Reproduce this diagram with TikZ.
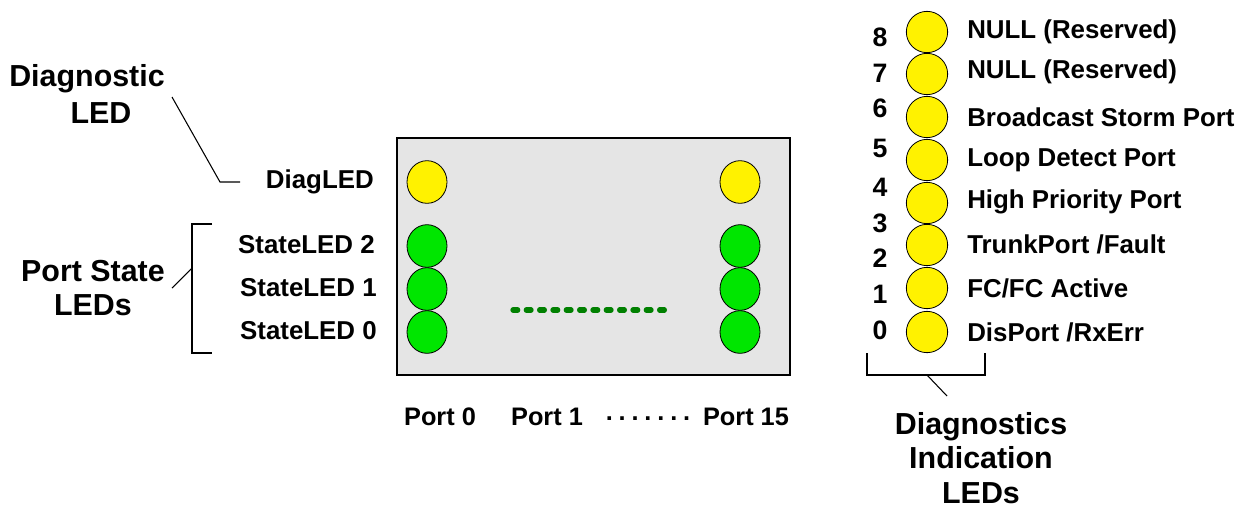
\documentclass[tikz,border=0pt]{standalone}
\usepackage{fontspec}
\setmainfont{Liberation Sans}
\usetikzlibrary{shapes.geometric}
\begin{document}
\begin{tikzpicture}[x=0.75pt,y=-0.75pt,
  lbl/.style={font=\bfseries\fontsize{19.4}{21}\selectfont, inner sep=0pt},
  plbl/.style={font=\bfseries\fontsize{19}{21}\selectfont, inner sep=0pt},
  big/.style={font=\bfseries\fontsize{22.8}{26}\selectfont, inner sep=0pt, align=center},
  num/.style={font=\bfseries\fontsize{20}{22}\selectfont, inner sep=0pt},
  yled/.style={draw=black, line width=0.6pt, fill=yellow, ellipse, minimum width=30pt, minimum height=32pt, inner sep=0pt},
  gled/.style={draw=black, line width=0.6pt, fill={rgb,255:red,0;green,230;blue,0}, ellipse, minimum width=30pt, minimum height=32pt, inner sep=0pt},
  dled/.style={draw=black, line width=0.6pt, fill=yellow, circle, minimum size=31pt, inner sep=0pt},
  conn/.style={draw=black, line width=0.8pt}]
\useasboundingbox (0,0) rectangle (1247,508);
% board
\node[draw=black, line width=0.8pt, fill={rgb,255:red,229;green,229;blue,229}, minimum width=294.75pt, minimum height=177.75pt, inner sep=0pt] (board) at (593.5,256.5) {};
% port 0 LEDs
\node[yled] (d0) at (427,182) {};
\node[gled] (s02) at (427,246) {};
\node[gled] (s01) at (427,289) {};
\node[gled] (s00) at (427,332) {};
% port 15 LEDs
\node[yled] (d15) at (740,182) {};
\node[gled] (s152) at (740,246) {};
\node[gled] (s151) at (740,289) {};
\node[gled] (s150) at (740,332) {};
% dotted green line
\coordinate (gl) at (513,310);
\coordinate (gr) at (672,310);
\draw[line width=4pt, line cap=round, dash pattern=on 3.5pt off 6.5pt, draw={rgb,255:red,0;green,128;blue,0}] (gl) -- (gr);
% left labels
\node[lbl, anchor=east] (diagled) at (374,182) {DiagLED};
\node[lbl, anchor=east] (sl2) at (375,245) {StateLED 2};
\node[lbl, anchor=east] (sl1) at (377,288) {StateLED 1};
\node[lbl, anchor=east] (sl0) at (377,331) {StateLED 0};
% port labels
\node[plbl] (p0) at (440,417) {Port 0};
\node[plbl] (p1) at (547,417) {Port 1};
\node[plbl] (pd) at (648,419) {.\kern4.4pt.\kern4.4pt.\kern4.4pt.\kern4.4pt.\kern4.4pt.\kern4.4pt.};
\node[plbl] (p15) at (746,417) {Port 15};
% big labels
\node[big] (diagtitle) at (87,79) {Diagnostic};
\node[big] (diagtitle2) at (101,113) {LED};
\node[big] (pstitle) at (93,288) {Port State\\LEDs};
\node[big] (ditle) at (981,458) {Diagnostics\\Indication\\LEDs};
% diagnostic connector
\coordinate (c1) at (172,97);
\coordinate (c2) at (220,182);
\coordinate (c3) at (240,182);
\draw[conn] (c1) -- (c2) -- (c3);
% port state bracket
\coordinate (b1) at (212,224);
\coordinate (b2) at (192,224);
\coordinate (b3) at (192,353);
\coordinate (b4) at (212,353);
\coordinate (b5) at (192,268);
\coordinate (b6) at (172,288);
\draw[conn] (b1) -- (b2) -- (b3) -- (b4);
\draw[conn] (b5) -- (b6);
% right column LEDs
\foreach \i/\y in {8/32,7/74,6/117,5/160,4/203,2/245,1/288,0/332}{
  \node[dled] (r\i) at (927,\y) {};
}
% numbers
\foreach \i/\y in {8/37,7/73,6/108,5/148,4/187,3/223,2/258,1/294,0/330}{
  \node[num] (n\i) at (880,\y) {\i};
}
% right labels
\node[lbl, anchor=west] (t8) at (967,32) {NULL (Reserved)};
\node[lbl, anchor=west] (t7) at (967,72) {NULL (Reserved)};
\node[lbl, anchor=west] (t6) at (967,117) {Broadcast Storm Port};
\node[lbl, anchor=west] (t5) at (967,160) {Loop Detect Port};
\node[lbl, anchor=west] (t4) at (967,202) {High Priority Port};
\node[lbl, anchor=west] (t2) at (967,244) {TrunkPort /Fault};
\node[lbl, anchor=west] (t1) at (967,288) {FC/FC Active};
\node[lbl, anchor=west] (t0) at (967,332) {DisPort /RxErr};
% bottom bracket
\coordinate (e1) at (867,353);
\coordinate (e2) at (867,375);
\coordinate (e3) at (985,375);
\coordinate (e4) at (985,353);
\coordinate (e5) at (927,375);
\coordinate (e6) at (947,396);
\draw[conn] (e1) -- (e2) -- (e3) -- (e4);
\draw[conn] (e5) -- (e6);
\end{tikzpicture}
\end{document}
